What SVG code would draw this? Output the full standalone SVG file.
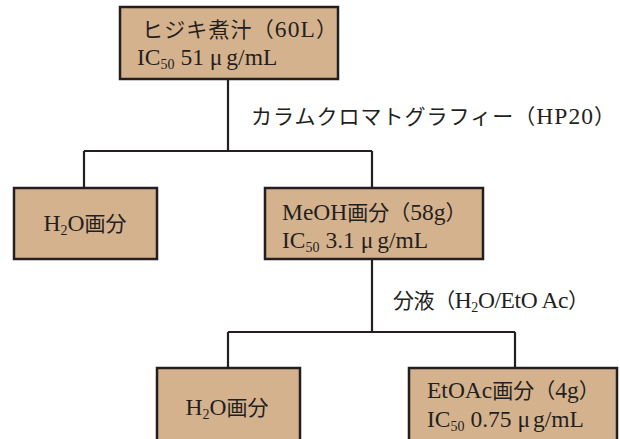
<svg xmlns="http://www.w3.org/2000/svg" width="620" height="439" viewBox="0 0 620 439">
<style>
.box{fill:#d5b28e;stroke:#231f20;stroke-width:2.5}
.ln{fill:none;stroke:#231f20;stroke-width:2.2}
text{font-family:"Liberation Serif","Noto Sans CJK JP",serif;font-size:21px;fill:#231f20}
.l{font-size:23.5px}
.sub{font-size:14px}
</style>
<rect width="620" height="439" fill="#ffffff"/>
<g id="connectors">
<path class="ln" d="M228,79 V151 M84,151 H372 M84,151 V188 M372,151 V188"/>
<path class="ln" d="M372,259 V332 M228,332 H515 M228,332 V368 M515,332 V368"/>
<text x="251" y="124" textLength="364">カラムクロマトグラフィー（<tspan class="l">HP20</tspan>）</text>
<text x="393" y="308" textLength="196">分液（<tspan class="l">H</tspan><tspan class="sub" dy="4">2</tspan><tspan class="l" dy="-4">O/EtO Ac</tspan>）</text>
</g>
<g id="node-top">
<rect class="box" x="120" y="7" width="218" height="72"/>
<text x="142" y="37" textLength="195">ヒジキ煮汁（<tspan class="l">60L</tspan>）</text>
<text x="137" y="65"><tspan class="l">IC</tspan><tspan class="sub" dy="4">50</tspan><tspan class="l" dy="-4"> 51 μ</tspan><tspan class="l" dx="4">g/mL</tspan></text>
</g>
<g id="node-h2o-1">
<rect class="box" x="14" y="188" width="143" height="71"/>
<text x="85" y="231" text-anchor="middle"><tspan class="l">H</tspan><tspan class="sub" dy="4">2</tspan><tspan class="l" dy="-4">O</tspan>画分</text>
</g>
<g id="node-meoh">
<rect class="box" x="265" y="188" width="218" height="71"/>
<text x="282" y="220"><tspan class="l">MeOH</tspan>画分（<tspan class="l">58g</tspan>）</text>
<text x="282" y="248"><tspan class="l">IC</tspan><tspan class="sub" dy="4">50</tspan><tspan class="l" dy="-4"> 3.1 μ</tspan><tspan class="l" dx="4">g/mL</tspan></text>
</g>
<g id="node-h2o-2">
<rect class="box" x="157" y="368" width="143" height="80"/>
<text x="227" y="415" text-anchor="middle"><tspan class="l">H</tspan><tspan class="sub" dy="4">2</tspan><tspan class="l" dy="-4">O</tspan>画分</text>
</g>
<g id="node-etoac">
<rect class="box" x="409" y="368" width="208" height="80"/>
<text x="427" y="398"><tspan class="l">EtOAc</tspan>画分（<tspan class="l">4g</tspan>）</text>
<text x="427" y="427"><tspan class="l">IC</tspan><tspan class="sub" dy="4">50</tspan><tspan class="l" dy="-4"> 0.75 μ</tspan><tspan class="l" dx="3">g/mL</tspan></text>
</g>
</svg>
